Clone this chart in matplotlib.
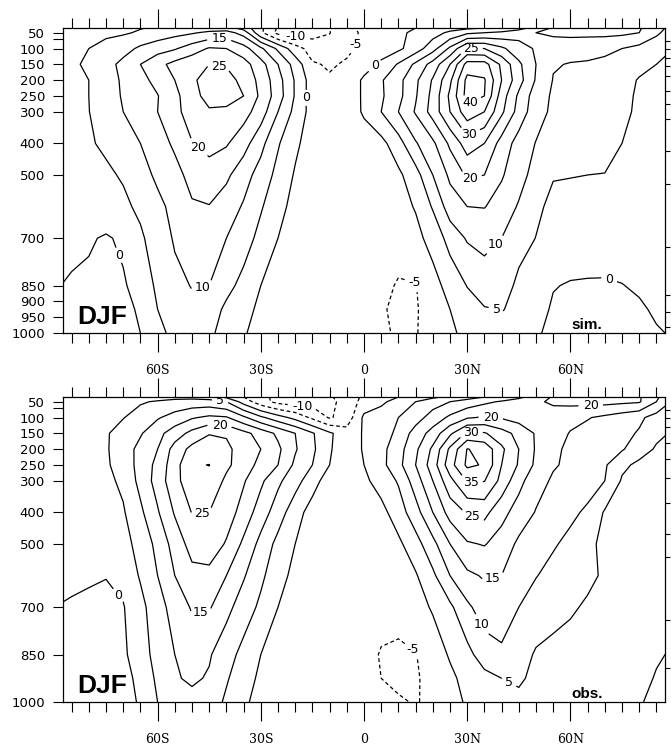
import numpy as np
import matplotlib
matplotlib.use("Agg")
import matplotlib.pyplot as plt

plt.rcParams['font.family'] = ['DejaVu Sans']
plt.rcParams['lines.dashed_pattern'] = [3.0, 2.2]

# ---------------- data (zonal-mean zonal wind, m/s) ----------------
lats_south = list(range(-90, 0, 5))          # -90 .. -5
lats_north = list(range(0, 91, 5))           # 0 .. 90
plevs = [35, 50, 100, 150, 200, 250, 300, 400, 500, 600, 700, 850, 925, 1000]
levels = [-10, -5, 0, 5, 10, 15, 20, 25, 30, 35, 40]

lat_ticks = [-60, -30, 0, 30, 60]
lat_ticklabels = ['60S', '30S', '0', '30N', '60N']
p_ticks_sim = [50, 100, 150, 200, 250, 300, 400, 500, 700, 850, 900, 950, 1000]
p_ticks_obs = [50, 100, 150, 200, 250, 300, 400, 500, 700, 850, 1000]
model_levels_sim = [75, 101, 129, 155, 187, 234, 276, 323, 425, 527, 727, 879, 933, 981]
model_levels_obs = [76, 102, 131, 182, 230, 290, 370, 469, 540, 741, 891]

# simulated, southern half (rows = plevs, cols = lats_south)
sim_south = [
    [3, 3, 3.2, 3.5, 4, 4.8, 5.5, 6.5, 7, 7.5, 7, 3, -4, -10.5, -12.5, -12.5, -10, -6],
    [3.8, 4, 4.2, 4.4, 4.5, 5.5, 7, 8.5, 9.5, 11, 12, 8, -4, -11.5, -12, -12, -10.2, -6],
    [4.8, 5, 5, 6, 8, 11, 13, 14.5, 17.5, 20.5, 20, 17, 11, 4, -3, -7, -7.5, -5.8],
    [4.5, 4.8, 5.2, 8, 11.5, 15, 18.5, 21.5, 23.5, 25, 24.5, 22, 17, 10, 3, -4.5, -5.5, -4.5],
    [4.2, 4.5, 5, 7.5, 10.8, 13.5, 16.5, 20, 24, 27.5, 27, 23.5, 18.5, 12, 4.5, -2.5, -4.5, -4],
    [4.3, 4.6, 5, 7.5, 10.5, 12.8, 14.8, 18.5, 23.5, 26.5, 27, 25, 19, 12.5, 4.5, -2.5, -4.5, -4],
    [4.2, 4.5, 4.9, 7.5, 10, 12.5, 15, 18.5, 22.5, 24.5, 24, 22, 17.5, 10, 3.5, -2, -4, -3.5],
    [3.8, 4, 4.5, 5.8, 7.8, 10, 13, 15.8, 19.8, 21.5, 20.5, 17, 11.5, 5.5, 1, -2.5, -3.5, -3],
    [3, 3.2, 3.5, 4.2, 5.5, 8, 11, 13.5, 16.5, 18, 16, 12, 8, 3.5, -0.5, -3, -3.5, -3],
    [2.5, 2.5, 2.8, 3.2, 4, 6, 8.7, 11.5, 14.5, 14.8, 12.5, 9.5, 5.5, 1.8, -1.8, -3, -3, -2.5],
    [1.5, 1.2, 0.5, -0.5, 0.8, 4.2, 7.5, 10.5, 13, 13.2, 10, 7.2, 3.5, 0, -2.5, -3, -2.5, -2],
    [0.3, -0.5, -0.8, -0.8, -0.5, 1.8, 6, 8.8, 10.2, 10, 6.5, 3.5, 0, -2.5, -3, -3, -2.5, -2],
    [-2, -2, -2, -2, -1.2, 0.6, 5, 8, 9, 7.5, 4, 1.5, -1, -3, -3.5, -3.5, -3, -2.5],
    [-3, -3, -3, -3, -2, 0, 3.5, 6.5, 8, 6, 3, 0.5, -2, -3.5, -4, -4, -3.5, -3],
]
# simulated, northern half (cols = lats_north)
sim_north = [
    [-4, -2, -1, 0, 1, 3, 4, 5, 6, 8, 12, 15.5, 16.5, 17, 17, 16.5, 15.5, 12, 8],
    [-4.5, -1.5, -0.5, 0.5, 3, 6, 9, 10, 11, 13, 15, 16, 16.5, 16.5, 16.5, 16, 15, 11, 7],
    [-4, -2.5, -1, 2.5, 8, 16, 25.5, 25, 21, 17, 14.5, 12, 11.5, 11, 10.5, 10, 8.5, 6.5, 5],
    [-2.5, 1, 5.5, 11, 17, 25, 37, 37, 29, 21, 15, 10.3, 9.8, 9.7, 9.5, 9, 7, 5, 4],
    [1, 4.5, 8.5, 14, 20.5, 29, 41.5, 40.5, 30, 22, 14.5, 9.8, 9.5, 9.3, 9, 7.5, 4.5, 3.5, 3],
    [1, 4.3, 8.5, 14.5, 21.5, 31, 42, 40, 27.5, 19, 12.5, 9.3, 9, 9, 8.5, 6.5, 4.2, 3.5, 3],
    [0.8, 5, 10, 15.5, 22, 30, 38, 35, 26, 18, 12, 9, 8.5, 8.5, 8, 6, 4.2, 3.5, 3],
    [-3, -1.5, 3, 9.5, 14, 21, 27.5, 25, 18, 13, 9.8, 8.5, 8, 7.5, 6.5, 5, 4, 3.5, 3],
    [-2.5, -2, -1, 3, 10, 16, 20.8, 20, 15.5, 12, 8, 5.3, 5.2, 5, 4.9, 4.5, 4.2, 4, 4],
    [-2.5, -2.3, -1.5, 0.3, 5.5, 12.5, 15, 15.2, 13, 9.5, 6, 3.8, 3.2, 3, 3, 3.2, 3.5, 3.8, 4],
    [-2.5, -2.8, -2.5, -1.2, 1.5, 7, 10.5, 11.2, 10, 7, 4.9, 3, 2.5, 2.2, 2, 2, 2.2, 2.5, 2.8],
    [-2, -3.5, -5.5, -5.2, -1.5, 1.5, 5.2, 8, 7.5, 3.8, 1.5, 0.2, -0.3, -0.4, -0.4, -0.1, 0.5, 1, 1.5],
    [-2.5, -4.5, -6, -5.5, -2.5, 0, 2.5, 4.6, 5.2, 4, 1.5, -0.5, -1, -1, -1, -1, -0.5, 0.5, 1],
    [-3, -4, -5.8, -5.3, -3, -1, 1.5, 3, 3.8, 3, 0.5, -1, -1.5, -1.5, -1.5, -1.5, -1, -0.3, 0.3],
]
# observed, southern half
obs_south = [
    [1, 1, 1.2, 1.5, 2, 2.5, 3, 3.5, 3.5, 2.5, -1, -5, -9, -11, -12, -11.5, -10.5, -8],
    [1.5, 1.5, 2, 2.5, 3.5, 4.5, 5.5, 6.5, 7, 7, 5, -2, -8, -11.5, -12.5, -12, -11, -8.5],
    [3, 3, 3.5, 4, 4.8, 7, 9.5, 12, 14.5, 16, 15.5, 11, 6, 2, -1.5, -6, -10.5, -8],
    [2.8, 3, 3.5, 4.5, 7, 9.5, 13.5, 17.5, 21.5, 24.8, 24.5, 21.5, 18, 14, 10, 5.5, 0.8, -3],
    [2.5, 2.8, 3.2, 4.5, 7.5, 11.5, 15, 22, 26.5, 27, 26, 23, 20, 16, 10.5, 6, 0.5, -3],
    [2.2, 2.5, 3, 4.2, 7.5, 11.5, 16.5, 23, 29.5, 30.1, 26, 22.5, 18.5, 15, 9, 5, 0, -3],
    [2.2, 2.3, 2.8, 3.8, 6, 11.5, 17, 23.5, 28, 28.5, 24, 20.5, 16, 11, 7, 2, -2.5, -3.5],
    [2, 2, 2.3, 3, 4.5, 9, 14.5, 20.5, 25.2, 25, 22.5, 18, 12.5, 7.5, 2, -2, -3.5, -3],
    [1.5, 1.5, 1.8, 2.2, 3.5, 6.5, 11.5, 17, 22, 23, 19.5, 14, 8.5, 3.5, 0, -3, -3.5, -3],
    [1, 0.8, 0.5, 0.2, 1.5, 5.5, 10, 15, 18.5, 18.5, 15, 10.5, 6, 2, -1.5, -3, -3, -2.5],
    [0, -0.4, -0.8, -1.5, -0.3, 3.5, 8, 12, 15.5, 15.5, 11.5, 7.5, 4, 0, -2.5, -3, -2.5, -2],
    [-1.5, -1.8, -1.8, -1.5, -0.8, 2.5, 7, 10, 12, 10.5, 7, 3.5, 0, -2.5, -3, -3, -2.5, -2],
    [-2.5, -2.8, -2.8, -2.5, -1.5, 1.2, 6, 9.5, 10.8, 9.5, 5.5, 2.2, -1, -3, -3.5, -3.5, -3, -2.5],
    [-3, -3.5, -3.5, -3, -2, 0.6, 5, 7.5, 8.5, 7.5, 4.2, 1, -2, -3.5, -4, -4, -3.5, -3],
]
# observed, northern half
obs_north = [
    [-4, -2, 0, 2, 4, 6, 8, 10, 12, 14, 17, 20.5, 21.5, 22, 22, 21.5, 20.5, 16, 10],
    [-3, -1, 2, 5, 8, 10, 12, 14, 15.5, 17, 19, 21, 21.5, 21.5, 21.5, 21, 20.5, 15, 9],
    [1, 2.5, 5, 8, 12, 16, 19.5, 20.5, 19.5, 18, 17.5, 17, 16, 15.3, 14, 12.5, 11, 8, 5.5],
    [0.5, 2, 6.5, 12, 17, 24, 31, 30.5, 27, 23.5, 19.5, 16.5, 14.8, 13.5, 12.5, 11.5, 9.5, 6, 4.5],
    [0.5, 3.5, 8, 14, 21, 31, 40.2, 38.5, 31, 25, 19.5, 16, 14, 13, 12, 10.5, 7, 4.5, 3.5],
    [0, 3.5, 8.5, 15, 22.5, 33, 41, 39.5, 30, 24.5, 19, 15.5, 14, 12.5, 10.6, 6, 4, 3.5, 3],
    [-1, 2, 5.5, 12.5, 20, 28.5, 35.5, 35.2, 28.5, 21.5, 17, 14.3, 13, 12, 10, 4.5, 3.8, 3.3, 3],
    [-3, -1.5, 2.5, 8, 15, 22, 25.5, 26.5, 21.5, 18, 14.7, 12.5, 11, 9.2, 4.5, 3.8, 3.5, 3.2, 3],
    [-3, -2.5, -1, 3, 8.5, 15, 19.5, 20.3, 18, 14, 11.8, 10.5, 8.8, 5.5, 4.5, 4.3, 3.8, 3.3, 3],
    [-3, -3, -2.2, -0.5, 4, 10, 14, 15.5, 15, 12.5, 10.2, 8.5, 7, 5.8, 4.5, 4, 3.5, 3, 2.5],
    [-3, -3.5, -3, -1.8, 0.5, 4, 9, 12.5, 13, 10, 7.8, 6.5, 5.5, 4.5, 4, 3.5, 3, 2.5, 2],
    [-3.5, -5.3, -6, -5.2, -2.5, 0.5, 3.5, 7.5, 9, 7, 4.5, 3.8, 3.5, 3, 2.5, 2, 1.2, 0.3, -0.3],
    [-3.5, -5, -6, -5.5, -3.5, -1, 1.5, 3.5, 5, 5.5, 4.2, 3.2, 2.8, 2.3, 2, 1.5, 0.8, -0.2, -0.6],
    [-3, -3.5, -4.5, -5.3, -4, -1.5, 0.5, 2.5, 3.8, 4.2, 3.5, 2.5, 2, 1.5, 1.2, 0.8, 0.2, -0.6, -1],
]

# label placement hints (level, lat, p)
sim_labels = [(15, -42, 85), (25, -42, 140), (20, -47, 400), (0, -17, 256),
              (-10, -20, 72), (-5, 3, 100), (0, 2.6, 149), (25, 31, 91),
              (40, 31, 276), (30, 31, 384), (20, 31, 520), (0, -70, 749),
              (10, -47, 848), (10, 37.7, 717), (5, 39, 918), (-5, 14.5, 848),
              (0, 70.8, 845)]
obs_labels = [(5, -42, 62), (20, -42, 131), (-10, -18, 67), (25, -47, 406),
              (0, -70, 651), (15, -47, 754), (20, 36.8, 102), (30, 31, 138),
              (35, 31, 310), (25, 31, 428), (15, 37.4, 604), (10, 37.4, 738),
              (5, 42.6, 929), (-5, 14.2, 836), (20, 66, 86)]

# ---------------- figure ----------------
W, H = 671, 752
fig = plt.figure(figsize=(W / 100, H / 100), dpi=100)


def add_ax(x0, y0, x1, y1):
    return fig.add_axes([x0 / W, 1 - y1 / H, (x1 - x0) / W, (y1 - y0) / H])


lats = np.array(lats_south + lats_north)


def draw(ax, south, north, labels, pticks, mlevels, tag):
    u = np.hstack([np.array(south, float), np.array(north, float)])
    fmt = lambda v: f"{v:.0f}"
    for lev in levels:
        ls = 'dashed' if lev < 0 else 'solid'
        cs = ax.contour(lats, plevs, u, levels=[lev], colors='k',
                        linewidths=0.9, linestyles=ls)
        pts = [(x, y) for l, x, y in labels if l == lev]
        if pts and len(cs.allsegs[0]) > 0:
            texts = cs.clabel(manual=pts, inline=True, inline_spacing=4,
                              fmt=fmt, fontsize=9)
            for t in texts:
                t.set_rotation(0)
    ax.set_xlim(-87.5, 87.5)
    ax.set_ylim(1000, 35)
    ax.set_xticks(lat_ticks)
    ax.set_xticklabels(lat_ticklabels, fontfamily='DejaVu Serif', fontsize=9)
    ax.set_xticks(np.arange(-85, 86, 5), minor=True)
    ax.tick_params(axis='x', which='major', direction='out', top=True,
                   bottom=True, length=14, width=0.8, pad=8)
    ax.tick_params(axis='x', which='minor', direction='out', top=True,
                   bottom=True, length=7, width=0.8)
    yt = pticks + [70]
    ax.set_yticks(yt)
    ax.set_yticklabels([str(p) for p in pticks] + [''], fontsize=9.5)
    ax.set_yticks(mlevels, minor=True)
    ax.tick_params(axis='y', which='major', direction='out', left=True,
                   right=False, length=7, width=0.8, pad=6)
    ax.tick_params(axis='y', which='minor', direction='out', left=False,
                   right=True, length=3.5, width=0.8)
    for s in ax.spines.values():
        s.set_linewidth(0.9)
    ax.text(0.023, 0.03, 'DJF', transform=ax.transAxes, fontsize=19,
            fontweight='bold', fontfamily='Liberation Sans', va='baseline')
    ax.text(0.845, 0.012, tag, transform=ax.transAxes, fontsize=11,
            fontweight='bold', fontfamily='Liberation Sans', va='baseline')


ax1 = add_ax(63, 28, 665, 333)
ax2 = add_ax(63, 397, 665, 702)
draw(ax1, sim_south, sim_north, sim_labels, p_ticks_sim, model_levels_sim, 'sim.')
draw(ax2, obs_south, obs_north, obs_labels, p_ticks_obs, model_levels_obs, 'obs.')

fig.savefig('out.png', dpi=100)
